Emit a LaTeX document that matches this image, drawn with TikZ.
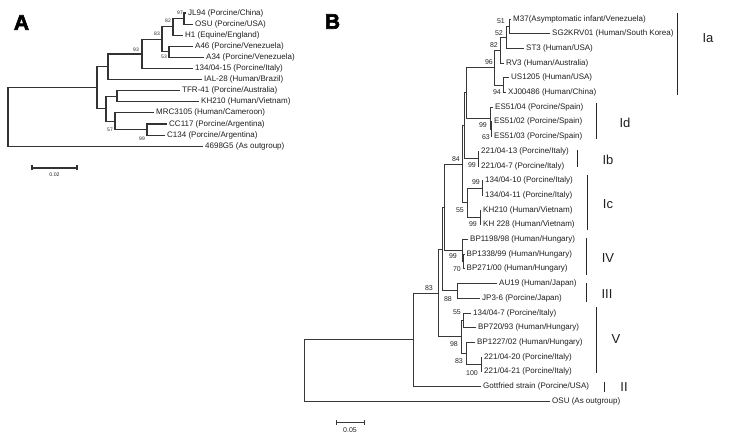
\documentclass[tikz,border=0pt]{standalone}
\usepackage{fontspec}
\setmainfont{Liberation Sans}
\newfontfamily\heavyfont{Liberation Sans}[BoldFeatures={FakeBold=3}]
\begin{document}
\begin{tikzpicture}[x=1pt,y=-1pt,
  br/.style={draw=black!78, line width=0.95pt},
  brA/.style={draw=black!80, line width=1.15pt},
  tip/.style={anchor=west, inner sep=0pt, xshift=2pt, font=\fontsize{8}{9}\selectfont, text=black!88},
  bsB/.style={anchor=east, inner sep=0pt, font=\fontsize{7}{8}\selectfont, text=black!85},
  bsA/.style={anchor=east, inner sep=0pt, font=\fontsize{5}{6}\selectfont, text=black!85},
  clade/.style={inner sep=0pt, font=\fontsize{13}{15}\selectfont, text=black!88},
  cbar/.style={draw=black!85, line width=1pt},
  panel/.style={inner sep=0pt, font=\heavyfont\bfseries\fontsize{21}{24}\selectfont}]
\useasboundingbox (0,0) rectangle (730,443);
\fill[white] (0,0) rectangle (730,443);

% ---------------- Panel A ----------------
\node[panel] (PA) at (21.5,22.5) {A};
\coordinate (a97) at (184,18.55);
\coordinate (a82) at (173,26.9);
\coordinate (a53) at (169,51.85);
\coordinate (a83) at (162,39.4);
\coordinate (a93) at (142,53.95);
\coordinate (aX1) at (108,66.8);
\coordinate (aTK) at (117,96.25);
\coordinate (a99) at (147,129.55);
\coordinate (a57) at (115,121.2);
\coordinate (aX2) at (106,108.7);
\coordinate (aIn) at (97,87.75);
\coordinate (aR) at (8,117);

\coordinate (tJL94) at (186,13);
\coordinate (tOSUa) at (193,24.1);
\coordinate (tH1) at (183,35.2);
\coordinate (tA46) at (193,46.3);
\coordinate (tA34) at (204,57.4);
\coordinate (t13415) at (193,68.5);
\coordinate (tIAL) at (202,79.6);
\coordinate (tTFR) at (180,90.7);
\coordinate (tKHa) at (199,101.8);
\coordinate (tMRC) at (154,112.9);
\coordinate (tCC) at (167,124);
\coordinate (tC134) at (165,135.1);
\coordinate (t4698) at (203,146.2);

\draw[brA] (a97) |- (tJL94); \draw[brA] (a97) |- (tOSUa);
\draw[brA] (a82) |- (a97); \draw[brA] (a82) |- (tH1);
\draw[brA] (a53) |- (tA46); \draw[brA] (a53) |- (tA34);
\draw[brA] (a83) |- (a82); \draw[brA] (a83) |- (a53);
\draw[brA] (a93) |- (a83); \draw[brA] (a93) |- (t13415);
\draw[brA] (aX1) |- (a93); \draw[brA] (aX1) |- (tIAL);
\draw[brA] (aTK) |- (tTFR); \draw[brA] (aTK) |- (tKHa);
\draw[brA] (a99) |- (tCC); \draw[brA] (a99) |- (tC134);
\draw[brA] (a57) |- (tMRC); \draw[brA] (a57) |- (a99);
\draw[brA] (aX2) |- (aTK); \draw[brA] (aX2) |- (a57);
\draw[brA] (aIn) |- (aX1); \draw[brA] (aIn) |- (aX2);
\draw[brA] (aR) |- (aIn); \draw[brA] (aR) |- (t4698);

\node[tip] (lJL94) at (tJL94) {JL94 (Porcine/China)};
\node[tip] (lOSUa) at (tOSUa) {OSU (Porcine/USA)};
\node[tip] (lH1) at (tH1) {H1 (Equine/England)};
\node[tip] (lA46) at (tA46) {A46 (Porcine/Venezuela)};
\node[tip] (lA34) at (tA34) {A34 (Porcine/Venezuela)};
\node[tip] (l13415) at (t13415) {134/04-15 (Porcine/Italy)};
\node[tip] (lIAL) at (tIAL) {IAL-28 (Human/Brazil)};
\node[tip] (lTFR) at (tTFR) {TFR-41 (Porcine/Australia)};
\node[tip] (lKHa) at (tKHa) {KH210 (Human/Vietnam)};
\node[tip] (lMRC) at (tMRC) {MRC3105 (Human/Cameroon)};
\node[tip] (lCC) at (tCC) {CC117 (Porcine/Argentina)};
\node[tip] (lC134) at (tC134) {C134 (Porcine/Argentina)};
\node[tip] (l4698) at (t4698) {4698G5 (As outgroup)};

\node[bsA] (ka97) at (183,13) {97};
\node[bsA] (ka82) at (171,21) {82};
\node[bsA] (ka83) at (160,34) {83};
\node[bsA] (ka93) at (139,50) {93};
\node[bsA] (ka53) at (167,57) {53};
\node[bsA] (ka57) at (113,130) {57};
\node[bsA] (ka99) at (145,139) {99};

\coordinate (sa1) at (32,168);
\coordinate (sa2) at (77,168);
\draw[brA] (sa1) -- (sa2);
\draw[brA] ([yshift=-2.5]sa1) -- ([yshift=2.5]sa1);
\draw[brA] ([yshift=-2.5]sa2) -- ([yshift=2.5]sa2);
\node[inner sep=0pt, font=\fontsize{5.2}{6}\selectfont, text=black!85] (la002) at (54.5,175) {0.02};

% ---------------- Panel B ----------------
\node[panel] (PB) at (332.5,21.5) {B};
\coordinate (b51) at (509,26.35);
\coordinate (b52) at (506,37.4);
\coordinate (b82) at (500,50.25);
\coordinate (b94) at (503,85.15);
\coordinate (b96) at (494,67.7);
\coordinate (b63) at (491,129.25);
\coordinate (b99d) at (490,118.2);
\coordinate (bIaId) at (466,92.95);
\coordinate (b99b) at (478,158.65);
\coordinate (bX) at (464,125.8);
\coordinate (b99c1) at (482,188.05);
\coordinate (b99c2) at (480,217.45);
\coordinate (b55c) at (467,202.75);
\coordinate (b84) at (462,164.3);
\coordinate (b70) at (463.5,261.55);
\coordinate (b99iv) at (462,250.5);
\coordinate (bY) at (444,207.4);
\coordinate (b88) at (457,290.95);
\coordinate (bZ) at (442,249.2);
\coordinate (b55v) at (463,320.35);
\coordinate (b100) at (481,364.45);
\coordinate (b83v) at (466,353.4);
\coordinate (b98) at (461,336.9);
\coordinate (b83) at (438,293.05);
\coordinate (bIn) at (413,339.8);
\coordinate (bR) at (304,370.5);

\coordinate (tM37) at (511,19);
\coordinate (tSG) at (550,33.7);
\coordinate (tST3) at (524,48.4);
\coordinate (tRV3) at (504,63.1);
\coordinate (tUS) at (509,77.8);
\coordinate (tXJ) at (506,92.5);
\coordinate (tES04) at (493,107.2);
\coordinate (tES02) at (492,121.9);
\coordinate (tES03) at (492,136.6);
\coordinate (t22113) at (479,151.3);
\coordinate (t2217) at (479,166);
\coordinate (t13410) at (483,180.7);
\coordinate (t13411) at (483,195.4);
\coordinate (tKH210) at (481,210.1);
\coordinate (tKH228) at (481,224.8);
\coordinate (tBP1198) at (468,239.5);
\coordinate (tBP1338) at (464.5,254.2);
\coordinate (tBP271) at (464.5,268.9);
\coordinate (tAU19) at (497,283.6);
\coordinate (tJP36) at (480,298.3);
\coordinate (t1347) at (471,313);
\coordinate (tBP720) at (476,327.7);
\coordinate (tBP1227) at (475,342.4);
\coordinate (t22120) at (482,357.1);
\coordinate (t22121) at (482,371.8);
\coordinate (tGott) at (481,386.5);
\coordinate (tOSUb) at (550,401.2);

\draw[br] (b51) |- (tM37); \draw[br] (b51) |- (tSG);
\draw[br] (b52) |- (b51); \draw[br] (b52) |- (tST3);
\draw[br] (b82) |- (b52); \draw[br] (b82) |- (tRV3);
\draw[br] (b94) |- (tUS); \draw[br] (b94) |- (tXJ);
\draw[br] (b96) |- (b82); \draw[br] (b96) |- (b94);
\draw[br] (b63) |- (tES02); \draw[br] (b63) |- (tES03);
\draw[br] (b99d) |- (tES04); \draw[br] (b99d) |- (b63);
\draw[br] (bIaId) |- (b96); \draw[br] (bIaId) |- (b99d);
\draw[br] (b99b) |- (t22113); \draw[br] (b99b) |- (t2217);
\draw[br] (bX) |- (bIaId); \draw[br] (bX) |- (b99b);
\draw[br] (b99c1) |- (t13410); \draw[br] (b99c1) |- (t13411);
\draw[br] (b99c2) |- (tKH210); \draw[br] (b99c2) |- (tKH228);
\draw[br] (b55c) |- (b99c1); \draw[br] (b55c) |- (b99c2);
\draw[br] (b84) |- (bX); \draw[br] (b84) |- (b55c);
\draw[br] (b70) |- (tBP1338); \draw[br] (b70) |- (tBP271);
\draw[br] (b99iv) |- (tBP1198); \draw[br] (b99iv) |- (b70);
\draw[br] (bY) |- (b84); \draw[br] (bY) |- (b99iv);
\draw[br] (b88) |- (tAU19); \draw[br] (b88) |- (tJP36);
\draw[br] (bZ) |- (bY); \draw[br] (bZ) |- (b88);
\draw[br] (b55v) |- (t1347); \draw[br] (b55v) |- (tBP720);
\draw[br] (b100) |- (t22120); \draw[br] (b100) |- (t22121);
\draw[br] (b83v) |- (tBP1227); \draw[br] (b83v) |- (b100);
\draw[br] (b98) |- (b55v); \draw[br] (b98) |- (b83v);
\draw[br] (b83) |- (bZ); \draw[br] (b83) |- (b98);
\draw[br] (bIn) |- (b83); \draw[br] (bIn) |- (tGott);
\draw[br] (bR) |- (bIn); \draw[br] (bR) |- (tOSUb);

\node[tip] (lM37) at (tM37) {M37(Asymptomatic infant/Venezuela)};
\node[tip] (lSG) at (tSG) {SG2KRV01 (Human/South Korea)};
\node[tip] (lST3) at (tST3) {ST3 (Human/USA)};
\node[tip] (lRV3) at (tRV3) {RV3 (Human/Australia)};
\node[tip] (lUS) at (tUS) {US1205 (Human/USA)};
\node[tip] (lXJ) at (tXJ) {XJ00486 (Human/China)};
\node[tip] (lES04) at (tES04) {ES51/04 (Porcine/Spain)};
\node[tip] (lES02) at (tES02) {ES51/02 (Porcine/Spain)};
\node[tip] (lES03) at (tES03) {ES51/03 (Porcine/Spain)};
\node[tip] (l22113) at (t22113) {221/04-13 (Porcine/Italy)};
\node[tip] (l2217) at (t2217) {221/04-7 (Porcine/Italy)};
\node[tip] (l13410) at (t13410) {134/04-10 (Porcine/Italy)};
\node[tip] (l13411) at (t13411) {134/04-11 (Porcine/Italy)};
\node[tip] (lKH210) at (tKH210) {KH210 (Human/Vietnam)};
\node[tip] (lKH228) at (tKH228) {KH 228 (Human/Vietnam)};
\node[tip] (lBP1198) at (tBP1198) {BP1198/98 (Human/Hungary)};
\node[tip] (lBP1338) at (tBP1338) {BP1338/99 (Human/Hungary)};
\node[tip] (lBP271) at (tBP271) {BP271/00 (Human/Hungary)};
\node[tip] (lAU19) at (tAU19) {AU19 (Human/Japan)};
\node[tip] (lJP36) at (tJP36) {JP3-6 (Porcine/Japan)};
\node[tip] (l1347) at (t1347) {134/04-7 (Porcine/Italy)};
\node[tip] (lBP720) at (tBP720) {BP720/93 (Human/Hungary)};
\node[tip] (lBP1227) at (tBP1227) {BP1227/02 (Human/Hungary)};
\node[tip] (l22120) at (t22120) {221/04-20 (Porcine/Italy)};
\node[tip] (l22121) at (t22121) {221/04-21 (Porcine/Italy)};
\node[tip] (lGott) at (tGott) {Gottfried strain (Porcine/USA)};
\node[tip] (lOSUb) at (tOSUb) {OSU (As outgroup)};

\node[bsB] (k51) at (505,21) {51};
\node[bsB] (k52) at (503,33) {52};
\node[bsB] (k82) at (498,45) {82};
\node[bsB] (k96) at (493,62) {96};
\node[bsB] (k94) at (501,92) {94};
\node[bsB] (k99d) at (487,125) {99};
\node[bsB] (k63) at (490,137) {63};
\node[bsB] (k99b) at (476,165) {99};
\node[bsB] (k84) at (460,159) {84};
\node[bsB] (k99c1) at (480,182) {99};
\node[bsB] (k55c) at (464,210) {55};
\node[bsB] (k99c2) at (477,224) {99};
\node[bsB] (k99iv) at (457,256) {99};
\node[bsB] (k70) at (461,269) {70};
\node[bsB] (k83) at (433,288) {83};
\node[bsB] (k88) at (452,299) {88};
\node[bsB] (k55v) at (461,312) {55};
\node[bsB] (k98) at (458,344) {98};
\node[bsB] (k83v) at (463,361) {83};
\node[bsB] (k100) at (478,373) {100};

\coordinate (sb1) at (336,422);
\coordinate (sb2) at (364,422);
\draw[br] (sb1) -- (sb2);
\draw[br] ([yshift=-2.5]sb1) -- ([yshift=2.5]sb1);
\draw[br] ([yshift=-2.5]sb2) -- ([yshift=2.5]sb2);
\node[inner sep=0pt, font=\fontsize{7}{8}\selectfont, text=black!85] (lb005) at (350,430) {0.05};

% clade bars and labels
\coordinate (cIa1) at (677,13); \coordinate (cIa2) at (677,95);
\draw[cbar] (cIa1) -- (cIa2);
\node[clade] (nIa) at (708,38) {Ia};
\coordinate (cId1) at (596,103); \coordinate (cId2) at (596,139);
\draw[cbar] (cId1) -- (cId2);
\node[clade] (nId) at (625,123) {Id};
\coordinate (cIb1) at (577,150); \coordinate (cIb2) at (577,167);
\draw[cbar] (cIb1) -- (cIb2);
\node[clade] (nIb) at (608,160) {Ib};
\coordinate (cIc1) at (587,175); \coordinate (cIc2) at (587,230);
\draw[cbar] (cIc1) -- (cIc2);
\node[clade] (nIc) at (608,204) {Ic};
\coordinate (cIV1) at (586,238); \coordinate (cIV2) at (586,275);
\draw[cbar] (cIV1) -- (cIV2);
\node[clade] (nIV) at (608,258) {IV};
\coordinate (cIII1) at (586,283); \coordinate (cIII2) at (586,302);
\draw[cbar] (cIII1) -- (cIII2);
\node[clade] (nIII) at (607,294) {III};
\coordinate (cV1) at (596,307); \coordinate (cV2) at (596,373);
\draw[cbar] (cV1) -- (cV2);
\node[clade] (nV) at (616,339) {V};
\coordinate (cII1) at (604,382); \coordinate (cII2) at (604,392);
\draw[cbar] (cII1) -- (cII2);
\node[clade] (nII) at (624,387) {II};
\end{tikzpicture}
\end{document}
